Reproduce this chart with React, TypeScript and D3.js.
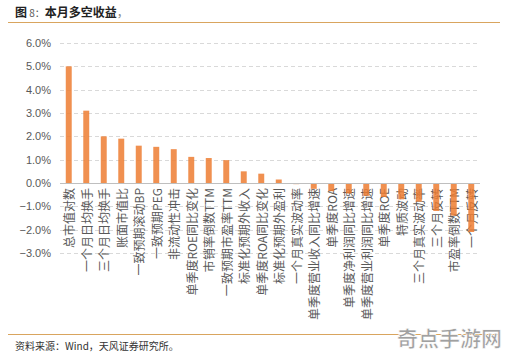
import { useEffect, useRef } from "react";
import * as d3 from "d3";

const categories = [
  "总市值对数", "一个月日均换手", "三个月日均换手", "账面市值比", "一致预期滚动BP",
  "一致预期PEG", "非流动性冲击", "单季度ROE同比变化", "市销率倒数TTM", "一致预期市盈率TTM",
  "标准化预期外收入", "单季度ROA同比变化", "标准化预期外盈利", "一个月真实波动率",
  "单季度营业收入同比增速", "单季度ROA", "单季度净利润同比增速", "单季度营业利润同比增速",
  "单季度ROE", "特质波动", "三个月真实波动率", "三个月反转", "市盈率倒数TTM", "一个月反转",
];
const returns = [
  5.0, 3.1, 2.0, 1.9, 1.6, 1.55, 1.45, 1.12, 1.07, 0.98,
  0.5, 0.4, 0.15, -0.05, -0.25, -0.35, -0.45, -0.55, -0.6, -0.7,
  -0.8, -1.2, -1.4, -2.1,
];
const yTicks = [6, 5, 4, 3, 2, 1, 0, -1, -2, -3];

const cjk = "'Noto Sans CJK SC', 'Noto Sans', sans-serif";
const latin = "'Liberation Sans', Arial, sans-serif";

function App() {
  const svgRef = useRef<SVGSVGElement>(null);
  const width = 508, height = 358;

  useEffect(() => {
    const svg = d3.select(svgRef.current);
    svg.selectAll("*").remove();

    const x = d3.scaleBand<string>()
      .domain(categories)
      .range([60, 480])
      .paddingInner(0.66)
      .paddingOuter(0.33);
    const y = d3.scaleLinear().domain([-3, 6]).range([253, 43]);

    svg.append("rect").attr("width", width).attr("height", height).attr("fill", "#fff");

    // header
    const title = svg.append("text").attr("x", 15).attr("y", 17)
      .attr("font-family", cjk).attr("font-size", 12).attr("fill", "#222");
    title.append("tspan").attr("font-weight", "bold").text("图");
    title.append("tspan").attr("fill", "#555").attr("font-size", 10).text(" 8：");
    title.append("tspan").attr("font-weight", "bold").text("本月多空收益");
    title.append("tspan").attr("fill", "#888").text("，");
    svg.append("line").attr("x1", 8).attr("x2", 500).attr("y1", 22.5).attr("y2", 22.5)
      .attr("stroke", "#D9A55E").attr("stroke-width", 1);

    // grid
    svg.append("g").selectAll("line").data(yTicks.filter(d => d !== 0)).join("line")
      .attr("x1", 60).attr("x2", 480)
      .attr("y1", d => Math.round(y(d)) + 0.5).attr("y2", d => Math.round(y(d)) + 0.5)
      .attr("stroke", "#D9D9D9").attr("stroke-dasharray", "4,3");

    svg.append("g").selectAll("text").data(yTicks).join("text")
      .attr("x", 51).attr("y", d => y(d)).attr("dy", "0.35em")
      .attr("text-anchor", "end").attr("font-family", latin).attr("font-size", 11)
      .attr("fill", "#595959")
      .text(d => d3.format(".1f")(d) + "%");

    // category labels (drawn under the bars, as in the source)
    svg.append("g").selectAll("text").data(categories).join("text")
      .attr("transform", d => `translate(${x(d)! + x.bandwidth() / 2},188) rotate(-90)`)
      .attr("text-anchor", "end").attr("dominant-baseline", "central")
      .attr("font-family", cjk).attr("font-size", 12).attr("fill", "#595959")
      .text(d => d);

    // bars
    svg.append("g").selectAll("rect").data(returns).join("rect")
      .attr("x", (_, i) => x(categories[i])!)
      .attr("width", x.bandwidth())
      .attr("y", d => y(Math.max(0, d)))
      .attr("height", d => Math.abs(y(d) - y(0)))
      .attr("fill", "#ED7D31")
      .attr("fill-opacity", 0.85);

    svg.append("line").attr("x1", 60).attr("x2", 480)
      .attr("y1", Math.round(y(0)) + 0.5).attr("y2", Math.round(y(0)) + 0.5)
      .attr("stroke", "#BFBFBF");

    // footer
    svg.append("line").attr("x1", 8).attr("x2", 500).attr("y1", 334.5).attr("y2", 334.5)
      .attr("stroke", "#D9A55E").attr("stroke-width", 1);
    svg.append("text").attr("x", 397).attr("y", 346)
      .attr("font-family", cjk).attr("font-size", 21).attr("font-weight", "bold")
      .attr("fill", "#A0A0A0").attr("stroke", "#fff").attr("stroke-width", 0.6)
      .text("奇点手游网");
    svg.append("text").attr("x", 15).attr("y", 350)
      .attr("font-family", cjk).attr("font-size", 10).attr("fill", "#333")
      .text("资料来源：Wind，天风证券研究所。");
  }, []);

  return (
    <div style={{ position: "absolute", left: 0, top: 0 }}>
      <svg ref={svgRef} width={width} height={height} style={{ display: "block" }}></svg>
    </div>
  );
}

export default App;
